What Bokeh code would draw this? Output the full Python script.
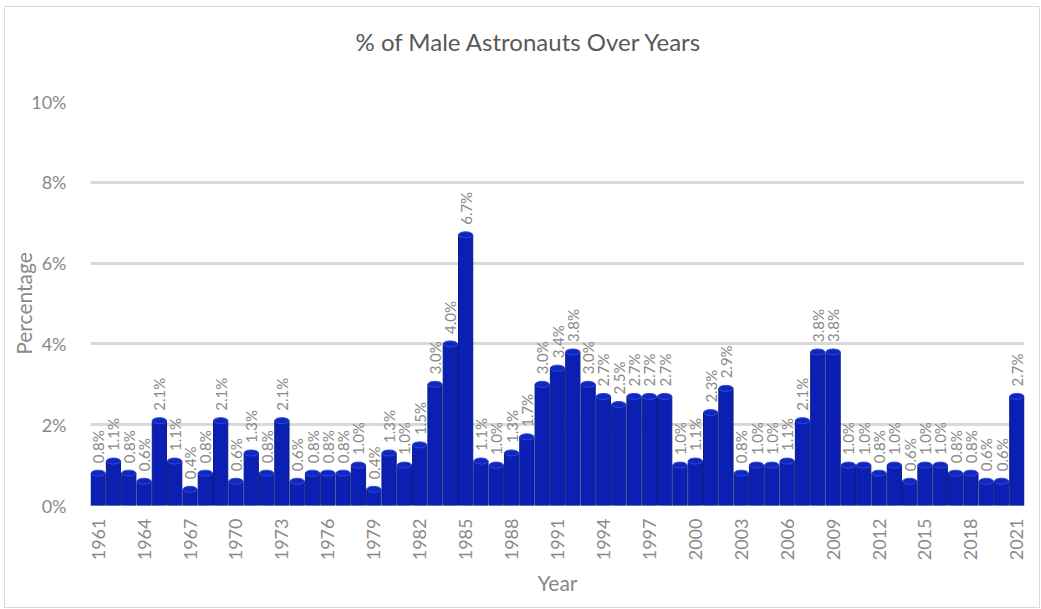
import math

from bokeh.core.properties import value
from bokeh.embed import file_html
from bokeh.models import ColumnDataSource, FixedTicker, PrintfTickFormatter, Range1d, Title
from bokeh.plotting import figure
from bokeh.resources import INLINE

# Share of male astronauts (%) flying in each year
years = list(range(1961, 2022))
percent = [
    0.8, 1.1, 0.8, 0.6, 2.1, 1.1, 0.4, 0.8, 2.1, 0.6,   # 1961-1970
    1.3, 0.8, 2.1, 0.6, 0.8, 0.8, 0.8, 1.0, 0.4, 1.3,   # 1971-1980
    1.0, 1.5, 3.0, 4.0, 6.7, 1.1, 1.0, 1.3, 1.7, 3.0,   # 1981-1990
    3.4, 3.8, 3.0, 2.7, 2.5, 2.7, 2.7, 2.7, 1.0, 1.1,   # 1991-2000
    2.3, 2.9, 0.8, 1.0, 1.0, 1.1, 2.1, 3.8, 3.8, 1.0,   # 2001-2010
    1.0, 0.8, 1.0, 0.6, 1.0, 1.0, 0.8, 0.8, 0.6, 0.6,   # 2011-2020
    2.7,                                                # 2021
]
year_ticks = years[::3]
pct_ticks = [0, 2, 4, 6, 8, 10]

FONT = "Lato"
GREY = "#898989"
TITLE_GREY = "#595959"
BAR = "#0b20b2"

source = ColumnDataSource(dict(
    year=years,
    pct=percent,
    label=[f"{v:.1f}%" for v in percent],
))

p = figure(
    width=1036, height=602,
    output_backend="svg", toolbar_location=None,
    x_range=Range1d(years[0] - 0.5, years[-1] + 0.5),
    y_range=Range1d(0, 10),
    min_border_left=85, min_border_right=17,
    min_border_top=94, min_border_bottom=104,
    margin=(6, 0, 0, 4),
    title=None,
)
p.styles = {"border": "1px solid #d9d9d9"}
p.outline_line_color = None
p.background_fill_color = "white"
p.border_fill_color = "white"

# blank band between the plot area and the title
p.add_layout(Title(text=" ", text_font=FONT, text_font_size="22px", standoff=12), "above")

# chart title, shifted so it sits over the middle of the whole chart
p.add_layout(Title(
    text="% of Male Astronauts Over Years",
    align="left", offset=265, standoff=10,
    text_font=FONT, text_font_size="24px", text_font_style="normal",
    text_color=TITLE_GREY,
), "above")

# gridlines
p.xgrid.grid_line_color = None
p.ygrid.grid_line_color = "#d9d9d9"
p.ygrid.grid_line_width = 3

# y axis
p.yaxis.ticker = FixedTicker(ticks=pct_ticks)
p.yaxis.formatter = PrintfTickFormatter(format="%d%%")
p.yaxis.axis_line_color = None
p.yaxis.major_tick_line_color = None
p.yaxis.minor_tick_line_color = None
p.yaxis.major_label_text_font = FONT
p.yaxis.major_label_text_font_size = "18px"
p.yaxis.major_label_text_color = GREY
p.yaxis.major_label_standoff = 18
p.yaxis.axis_label = "Percentage"
p.yaxis.axis_label_text_font = FONT
p.yaxis.axis_label_text_font_size = "21px"
p.yaxis.axis_label_text_font_style = "normal"
p.yaxis.axis_label_text_color = GREY
p.yaxis.axis_label_standoff = -8

# x axis
p.xaxis.ticker = FixedTicker(ticks=year_ticks)
p.xaxis.major_label_orientation = math.pi / 2
p.xaxis.axis_line_color = None
p.xaxis.major_tick_line_color = None
p.xaxis.minor_tick_line_color = None
p.xaxis.major_label_text_font = FONT
p.xaxis.major_label_text_font_size = "18px"
p.xaxis.major_label_text_color = GREY
p.xaxis.major_label_standoff = 7
p.xaxis.axis_label = "Year"
p.xaxis.axis_label_text_font = FONT
p.xaxis.axis_label_text_font_size = "21px"
p.xaxis.axis_label_text_font_style = "normal"
p.xaxis.axis_label_text_color = GREY
p.xaxis.axis_label_standoff = 7

# cylinder-style bars: body plus rounded top cap
p.vbar(x="year", top="pct", bottom=0, width=0.93, source=source,
       fill_color=BAR, line_color="#0a1a8a", line_width=1)
p.ellipse(x="year", y="pct", width=0.93, height=6, height_units="screen",
          source=source, fill_color="#0e26c4", line_color="#3048d0", line_width=1)

# value labels above each bar
p.text(x="year", y="pct", text="label", source=source,
       angle=math.pi / 2, y_offset=-10,
       text_align="left", text_baseline="middle",
       text_font=value(FONT), text_font_size="15px", text_color=GREY)

open("out.html", "w").write(file_html(p, INLINE))
